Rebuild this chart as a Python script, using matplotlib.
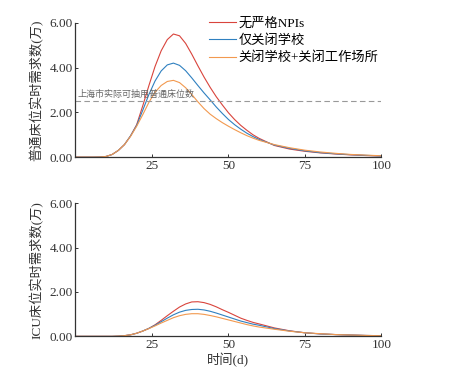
import matplotlib
matplotlib.use("Agg")
import matplotlib.pyplot as plt

plt.rcParams['font.family'] = ['Liberation Serif', 'Noto Sans CJK SC']
plt.rcParams['axes.unicode_minus'] = False

# days sampled
days = [0, 6, 8, 10, 12, 14, 16, 18, 20, 22, 24, 26, 28, 30, 32, 34, 36, 38, 40,
        42, 44, 46, 48, 50, 52, 54, 56, 58, 60, 65, 70, 75, 80, 85, 90, 95, 100]

# general beds (10k)
ward_none = [0, 0, 0.005, 0.03, 0.12, 0.3, 0.56, 0.95, 1.45, 2.3, 3.2, 4.05, 4.75, 5.25, 5.5,
             5.42, 5.08, 4.6, 4.08, 3.58, 3.12, 2.7, 2.33, 1.98, 1.68, 1.42, 1.2, 1.0, 0.84,
             0.52, 0.36, 0.26, 0.19, 0.14, 0.1, 0.07, 0.05]
ward_school = [0, 0, 0.005, 0.03, 0.12, 0.3, 0.56, 0.95, 1.42, 2.1, 2.8, 3.4, 3.85, 4.12, 4.2,
               4.1, 3.86, 3.54, 3.2, 2.87, 2.56, 2.24, 1.95, 1.68, 1.45, 1.25, 1.07, 0.92, 0.79,
               0.54, 0.39, 0.28, 0.2, 0.15, 0.11, 0.08, 0.05]
ward_work = [0, 0, 0.005, 0.03, 0.12, 0.3, 0.56, 0.93, 1.38, 1.9, 2.45, 2.9, 3.2, 3.38, 3.43,
             3.33, 3.1, 2.8, 2.47, 2.17, 1.92, 1.72, 1.54, 1.38, 1.23, 1.09, 0.96, 0.85, 0.75,
             0.56, 0.42, 0.31, 0.23, 0.17, 0.12, 0.09, 0.06]

# ICU beds (10k)
icu_none = [0, 0, 0, 0, 0, 0.01, 0.03, 0.07, 0.14, 0.24, 0.36, 0.52, 0.72, 0.93, 1.13,
            1.32, 1.46, 1.55, 1.56, 1.52, 1.44, 1.33, 1.2, 1.08, 0.95, 0.82, 0.72, 0.63, 0.56,
            0.38, 0.25, 0.16, 0.11, 0.08, 0.06, 0.04, 0.03]
icu_school = [0, 0, 0, 0, 0, 0.01, 0.03, 0.07, 0.14, 0.24, 0.36, 0.5, 0.66, 0.82, 0.97,
              1.09, 1.17, 1.21, 1.22, 1.19, 1.13, 1.05, 0.96, 0.87, 0.78, 0.69, 0.62, 0.55, 0.5,
              0.35, 0.24, 0.16, 0.11, 0.08, 0.06, 0.04, 0.03]
icu_work = [0, 0, 0, 0, 0, 0.01, 0.03, 0.07, 0.14, 0.24, 0.35, 0.47, 0.6, 0.72, 0.84,
            0.93, 0.99, 1.02, 1.02, 0.99, 0.94, 0.88, 0.81, 0.74, 0.67, 0.6, 0.53, 0.47, 0.42,
            0.32, 0.23, 0.16, 0.12, 0.08, 0.06, 0.04, 0.03]

labels = ["无严格NPIs", "仅关闭学校", "关闭学校+关闭工作场所"]
colors = ["#d9443c", "#2f80c0", "#f2994f"]
bed_limit = 2.5
yticks = [0, 2, 4, 6]
xticks = [25, 50, 75, 100]

fig = plt.figure(figsize=(4.52, 3.68), dpi=100)
ax1 = fig.add_axes([0.167, 0.573, 0.677, 0.365])
ax2 = fig.add_axes([0.167, 0.086, 0.677, 0.362])

for ax, series in [(ax1, [ward_none, ward_school, ward_work]),
                   (ax2, [icu_none, icu_school, icu_work])]:
    for ys, c, lab in zip(series, colors, labels):
        ax.plot(days, ys, color=c, lw=0.8, label=lab)
    ax.set_xlim(0, 100)
    ax.set_ylim(0, 6)
    ax.set_xticks(xticks)
    ax.set_yticks(yticks)
    ax.set_yticklabels([f"{v:.2f}" for v in yticks])
    ax.spines['top'].set_visible(False)
    ax.spines['right'].set_visible(False)
    for s in ['left', 'bottom']:
        ax.spines[s].set_color('#333333')
        ax.spines[s].set_linewidth(0.9)
    ax.tick_params(direction='in', length=2.5, width=0.7, labelsize=9.5,
                   colors='#333333', pad=2)

ax1.axhline(bed_limit, color='#999999', lw=0.8, ls=(0, (5, 3)))
ax1.text(0.5, bed_limit + 0.1, "上海市实际可抽用普通床位数", fontsize=6.5,
         color='#666666', va='bottom', ha='left')
ax1.set_ylabel("普通床位实时需求数(万)", fontsize=9.5, color='#333333', labelpad=4)
ax2.set_ylabel("ICU床位实时需求数(万)", fontsize=9.5, color='#333333', labelpad=4)
ax2.set_xlabel("时间(d)", fontsize=9.5, color='#333333', labelpad=1)

ax1.legend(loc='upper left', bbox_to_anchor=(0.42, 1.08), frameon=False, fontsize=9.5,
           handlelength=2.0, handletextpad=0.2, labelspacing=0.35, borderaxespad=0)

fig.savefig("out.png", dpi=100)
